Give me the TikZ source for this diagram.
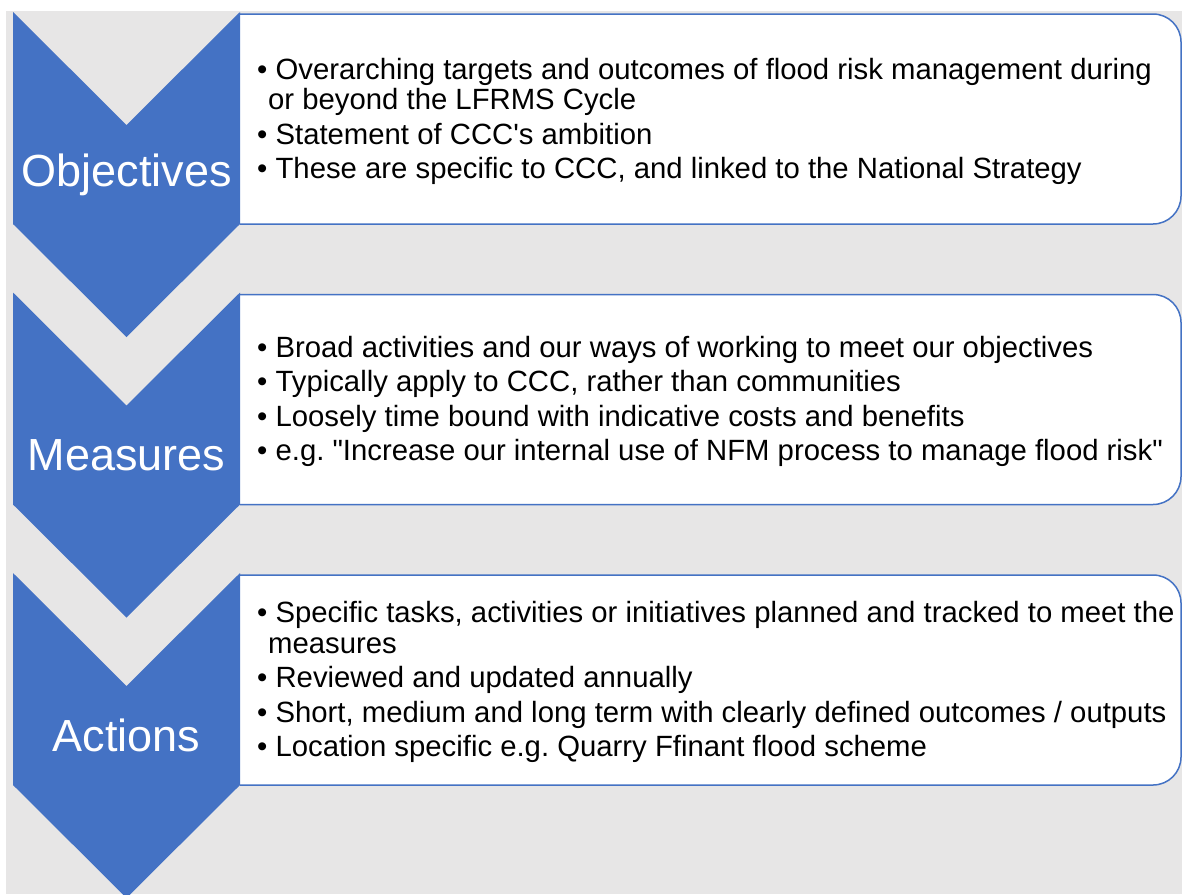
\documentclass[tikz,border=0pt]{standalone}
\usepackage{fontspec}
\setmainfont{Liberation Sans}
\usepackage{xcolor}
\usepackage{tikz}
\usetikzlibrary{positioning}
\definecolor{accent}{HTML}{4472C4}
\definecolor{paper}{HTML}{E7E6E6}
\newcommand{\Bul}{\textbullet\ }
\frenchspacing

\begin{document}
\begin{tikzpicture}[
x=1pt, y=-1pt,
chev/.style={fill=accent},
panel/.style={draw=accent, line width=1.5pt, fill=white, rounded corners=28pt},
tag/.style={text=white, font=\fontsize{45}{50}\selectfont, inner sep=0pt},
list/.style={align=left, inner sep=0pt, yshift=-2pt, font=\fontsize{29.3}{30.5}\selectfont}
]
\useasboundingbox (0,0) rectangle (1182,894);
\clip (0,0) rectangle (1182,894);
\fill[paper] (6,11) rectangle (1182,894);
% text panels (left side is hidden by the chevrons)
\foreach \t in {12,292.5,573}
  \filldraw[panel] (240,\t+2) -- (1181,\t+2) -- (1181,\t+212) -- (240,\t+212);
\coordinate (objbox) at (240,119.5);
\coordinate (measbox) at (240,399.5);
\coordinate (actbox) at (240,680);
% chevrons
\foreach \t in {12,292.5,573}
  \fill[chev] (13,\t) -- ++(113.5,113) -- ++(113.5,-113) -- ++(0,212) -- ++(-113.5,113) -- ++(-113.5,-113) -- cycle;
\node[tag] (obj) at (126.5,174.5) {Objectives};
\node[tag] (meas) at (126.5,455) {Measures};
\node[tag] (act) at (126.5,735.5) {Actions};
% bullet lists
\node[list, right=17pt of objbox] (objlist) {\Bul Overarching targets and outcomes of flood risk management during\\
\hspace*{11pt}or beyond the LFRMS Cycle\\[4pt]
\Bul Statement of CCC\textquotesingle s ambition\\[4pt]
\Bul These are specific to CCC, and linked to the National Strategy};
\node[list, right=17pt of measbox] (measlist) {\Bul Broad activities and our ways of working to meet our objectives\\[4pt]
\Bul Typically apply to CCC, rather than communities\\[4pt]
\Bul Loosely time bound with indicative costs and benefits\\[4pt]
\Bul e.g. \textquotedbl Increase our internal use of NFM process to manage flood risk\textquotedbl};
\node[list, right=17pt of actbox] (actlist) {\Bul Specific tasks, activities or initiatives planned and tracked to meet the\\
\hspace*{11pt}measures\\[4pt]
\Bul Reviewed and updated annually\\[4pt]
\Bul Short, medium and long term with clearly defined outcomes / outputs\\[4pt]
\Bul Location specific e.g. Quarry Ffinant flood scheme};
\end{tikzpicture}
\end{document}
